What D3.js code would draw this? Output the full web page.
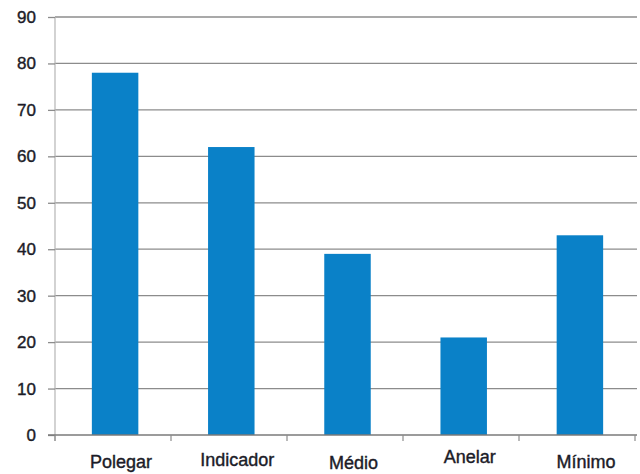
<!DOCTYPE html>
<html><head><meta charset="utf-8">
<script src="https://cdn.jsdelivr.net/npm/d3@7"></script>
<style>body{margin:0;background:#fff}svg{display:block}</style>
</head><body><svg id="c" width="640" height="474"></svg>
<script>
const categories = ["Polegar","Indicador","Médio","Anelar","Mínimo"];
const values = [78, 62, 39, 21, 43];
const yTicks = [0,10,20,30,40,50,60,70,80,90];
const labelDy = [0, -2, 1, -5, 0];

const svg = d3.select("#c");
const x0 = 55, x1 = 637, yTop = 17, yBot = 435;
const x = d3.scaleBand().domain(categories).range([57, 638]).paddingInner(0.6).paddingOuter(0.3);
const y = d3.scaleLinear().domain([0,90]).range([yBot, yTop]);
const font = "Liberation Sans, Arial, sans-serif";
const textColor = "#1c1c28";

// gridlines
svg.append("g").selectAll("line").data(yTicks.filter(d=>d>0)).join("line")
  .attr("x1", x0).attr("x2", x1).attr("y1", d=>y(d)).attr("y2", d=>y(d))
  .attr("stroke", "#8c8c8c").attr("stroke-width", 1.3);

// y axis line
svg.append("line").attr("x1", x0).attr("x2", x0).attr("y1", yTop).attr("y2", yBot+6)
  .attr("stroke", "#b5b5b5").attr("stroke-width", 1.2);

// y ticks
const yAxis = d3.axisLeft(y).tickValues(yTicks).tickSize(7).tickPadding(12).tickFormat(d3.format("d"));
const gy = svg.append("g").attr("transform", `translate(${x0},0)`).call(yAxis);
gy.select(".domain").remove();
gy.selectAll(".tick line").attr("stroke", "#8c8c8c").attr("stroke-width", 1.3);
gy.selectAll(".tick text").attr("font-family", font)
  .attr("font-size", 17).attr("fill", textColor)
  .attr("stroke", textColor).attr("stroke-width", 0.4);

// bars
svg.append("g").selectAll("rect").data(values).join("rect")
  .attr("x", (d,i)=>x(categories[i])).attr("width", x.bandwidth())
  .attr("y", d=>y(d)).attr("height", d=>yBot - y(d))
  .attr("fill", "#0a81c8");

// x axis
svg.append("line").attr("x1", x0-7).attr("x2", x1).attr("y1", yBot).attr("y2", yBot)
  .attr("stroke", "#7a7a7a").attr("stroke-width", 1.3);
const boundaries = d3.range(categories.length+1).map(i => x0 + (635-x0)*i/categories.length);
svg.append("g").selectAll("line").data(boundaries).join("line")
  .attr("x1", d=>d).attr("x2", d=>d).attr("y1", yBot).attr("y2", yBot+6)
  .attr("stroke", "#8c8c8c").attr("stroke-width", 1.2);

svg.append("g").selectAll("text").data(categories).join("text")
  .attr("x", d=>x(d)+x.bandwidth()/2 + 6).attr("y", (d,i)=>468+labelDy[i])
  .attr("text-anchor", "middle")
  .attr("font-family", font).attr("font-size", 18)
  .attr("fill", textColor).attr("stroke", textColor).attr("stroke-width", 0.4)
  .text(d=>d);
</script></body></html>
